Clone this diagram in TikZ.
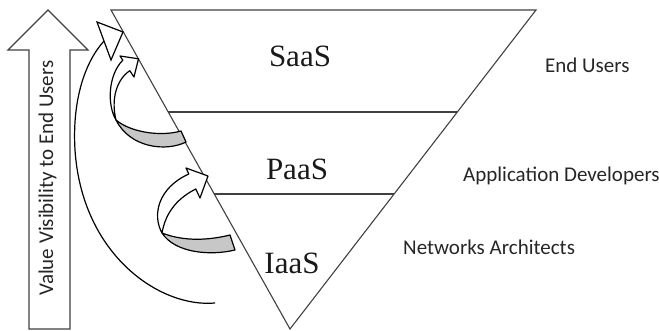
\documentclass[tikz,border=0pt]{standalone}
\usepackage{fontspec}
\setmainfont{Liberation Serif}
\newfontfamily\labelfont{Carlito}
\usetikzlibrary{calc}
\begin{document}
\begin{tikzpicture}[x=1pt,y=-1pt,
  edge/.style={draw=black!75, line width=1.1pt},
  ribbon/.style={draw=black, line width=1.2pt, fill=white, line join=round},
  underside/.style={draw=black, line width=1.2pt, fill=black!22, line join=round},
  layer/.style={font=\fontsize{31}{31}\selectfont, anchor=base, text=black!90, inner sep=0pt},
  role/.style={font=\labelfont\fontsize{21}{21}\selectfont, text=black!85, inner sep=0pt}]
\useasboundingbox (0,0) rectangle (659,331);

% tall hollow arrow on the left
\draw[edge, fill=white, line join=miter] (29,329) -- (29,50) -- (8,50) -- (48,10) -- (88,50) -- (70,50) -- (70,329) -- cycle;
\node[role, rotate=90, anchor=base] (vis) at (53,178) {Value Visibility to End Users};

% inverted triangle with its three layers
\coordinate (tl) at (111,10);
\coordinate (tr) at (536,10);
\coordinate (ap) at (290,329);
\draw[edge, line join=miter] (tl) -- (tr) -- (ap) -- cycle;
\draw[edge] ($(tl)!0.3197!(ap)$) -- ($(tr)!0.3197!(ap)$);
\draw[edge] ($(tl)!0.5768!(ap)$) -- ($(tr)!0.5768!(ap)$);

\node[layer] (saas) at (300,67) {SaaS};
\node[layer] (paas) at (297,180) {PaaS};
\node[layer] (iaas) at (292,273) {IaaS};

% roles beside each layer
\node[role, anchor=base west] (users) at (545,73) {End Users};
\node[role, anchor=base west] (devs) at (463,182) {Application Developers};
\node[role, anchor=base west] (arch) at (403,255) {Networks Architects};

% long thin arc from the bottom up to the top layer
\draw[line width=1.2pt] (215,303) .. controls (160,308) and (82,255) .. (75,150)
  .. controls (72,100) and (85,62) .. (104,41);
\draw[ribbon, line join=miter] (97,22) -- (123,32) -- (111,60) -- cycle;

% curved ribbon arrow: PaaS up to SaaS
\draw[ribbon] (116,120) .. controls (107,105) and (108,75) .. (122.8,60.2)
  -- (120,56) -- (138.5,58.8) -- (134,77) -- (129.8,70.7)
  .. controls (116,80) and (111,100) .. (116,120) -- cycle;
\draw[underside] (116,120) .. controls (130,132) and (160,137) .. (181,131)
  -- (186,142) .. controls (166,152) and (130,148) .. (116,120) -- cycle;

% curved ribbon arrow: IaaS up to PaaS
\draw[ribbon] (162,233) .. controls (152,215) and (158,188) .. (188.8,174)
  -- (186,168) -- (208,176) -- (200,198) -- (195.8,189)
  .. controls (180,197) and (166,210) .. (162,233) -- cycle;
\draw[underside] (162,233) .. controls (185,242) and (210,240) .. (230,235)
  -- (235,250) .. controls (210,256) and (175,253) .. (162,233) -- cycle;
\end{tikzpicture}
\end{document}
